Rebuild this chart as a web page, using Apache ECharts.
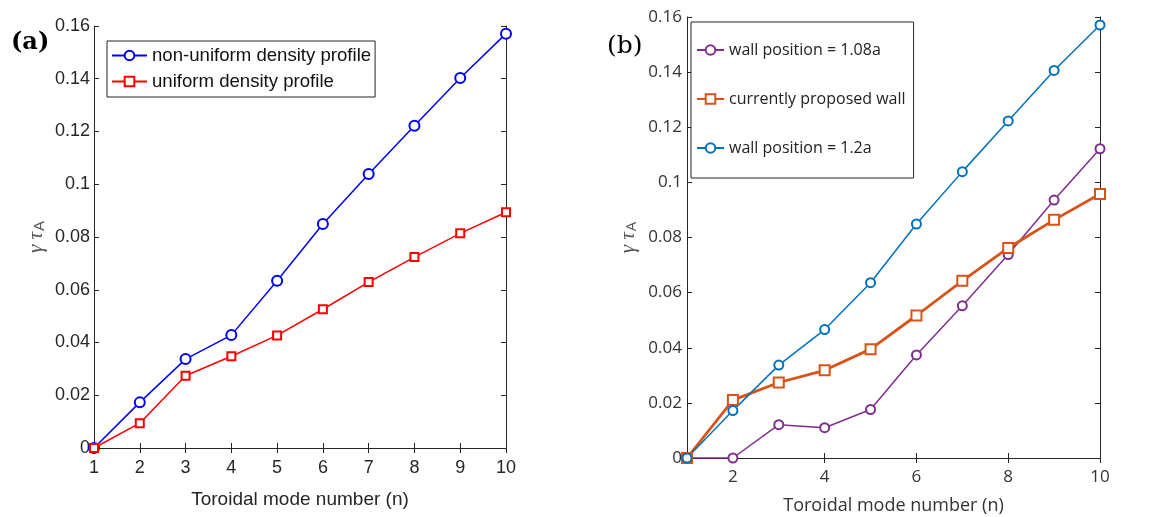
<!DOCTYPE html>
<html>
<head>
<meta charset="utf-8">
<script src="https://cdn.jsdelivr.net/npm/echarts@6/dist/echarts.min.js"></script>
<style>
  html, body { margin: 0; padding: 0; background: #fff; }
  #chart { width: 1174px; height: 517px; }
</style>
</head>
<body>
<div id="chart"></div>
<script>
// mode numbers n
var modes = [1, 2, 3, 4, 5, 6, 7, 8, 9, 10];

// panel (a)
var nonUniform = [0, 0.0173, 0.0337, 0.0428, 0.0634, 0.0849, 0.1039, 0.1222, 0.1403, 0.1571];
var uniform = [0, 0.0094, 0.0274, 0.0348, 0.0427, 0.0526, 0.0629, 0.0724, 0.0814, 0.0894];

// panel (b)
var wall108 = [0, 0, 0.0121, 0.0110, 0.0176, 0.0374, 0.0552, 0.0738, 0.0936, 0.1122];
var wallProposed = [0, 0.0210, 0.0274, 0.0318, 0.0395, 0.0517, 0.0643, 0.0762, 0.0864, 0.0958];
var wall12 = [0, 0.0172, 0.0337, 0.0466, 0.0636, 0.0849, 0.1039, 0.1223, 0.1406, 0.1571];

var xTicksB = [2, 4, 6, 8, 10];

function pairs(ys) {
  return modes.map(function (n, i) { return [n, ys[i]]; });
}

var fontA = 'Liberation Sans, Arial, sans-serif';
var fontB = 'Open Sans, Noto Sans, sans-serif';
var frame = '#262626';

function yName(font) {
  return {
    g: { fontFamily: 'Liberation Serif', fontStyle: 'italic', fontSize: 21, color: '#555', lineHeight: 22 },
    s: { fontFamily: font, fontSize: 15, color: '#555', verticalAlign: 'bottom', lineHeight: 22, padding: [9, 0, 0, 1] }
  };
}

function frameAxis(extra) {
  var base = {
    axisLine: { show: true, lineStyle: { color: frame, width: 1 } },
    axisTick: { show: true, inside: true, length: 5, lineStyle: { color: frame } },
    axisLabel: { show: false },
    splitLine: { show: false }
  };
  return Object.assign(base, extra);
}

var myChart = echarts.init(document.getElementById('chart'));

var option = {
  animation: false,
  backgroundColor: '#fff',
  grid: [
    { left: 94, top: 26, width: 412, height: 422, containLabel: false, outerBoundsMode: 'none' },
    { left: 687, top: 17, width: 413, height: 441, containLabel: false, outerBoundsMode: 'none' }
  ],
  xAxis: [
    frameAxis({
      type: 'value', gridIndex: 0, min: 1, max: 10, interval: 1,
      axisLabel: { show: true, margin: 11, fontFamily: fontA, fontSize: 18, color: frame },
      name: 'Toroidal mode number (n)', nameLocation: 'middle', nameGap: 42,
      nameTextStyle: { fontFamily: fontA, fontSize: 19, color: frame }
    }),
    frameAxis({ type: 'value', gridIndex: 0, min: 1, max: 10, interval: 1, position: 'top' }),
    frameAxis({
      type: 'value', gridIndex: 1, min: 1, max: 10,
      axisTick: { show: true, inside: true, length: 5, lineStyle: { color: frame }, customValues: xTicksB },
      axisLabel: { show: true, margin: 11, fontFamily: fontB, fontSize: 17, color: '#333', customValues: xTicksB },
      name: 'Toroidal mode number (n)', nameLocation: 'middle', nameGap: 39,
      nameTextStyle: { fontFamily: fontB, fontSize: 18, color: '#333' }
    }),
    frameAxis({
      type: 'value', gridIndex: 1, min: 1, max: 10, position: 'top',
      axisTick: { show: true, inside: true, length: 5, lineStyle: { color: frame }, customValues: xTicksB }
    })
  ],
  yAxis: [
    frameAxis({
      type: 'value', gridIndex: 0, min: 0, max: 0.16, interval: 0.02,
      axisLabel: { show: true, margin: 4, fontFamily: fontA, fontSize: 18, color: frame },
      name: '{g|γ τ}{s|A}', nameLocation: 'middle', nameGap: 47, nameRotate: 90,
      nameTextStyle: { rich: yName(fontA) }
    }),
    frameAxis({ type: 'value', gridIndex: 0, min: 0, max: 0.16, interval: 0.02, position: 'right' }),
    frameAxis({
      type: 'value', gridIndex: 1, min: 0, max: 0.16, interval: 0.02,
      axisLabel: { show: true, margin: 5, fontFamily: fontB, fontSize: 17, color: '#333' },
      name: '{g|γ τ}{s|A}', nameLocation: 'middle', nameGap: 48, nameRotate: 90,
      nameTextStyle: { rich: yName(fontB) }
    }),
    frameAxis({ type: 'value', gridIndex: 1, min: 0, max: 0.16, interval: 0.02, position: 'right' })
  ],
  legend: [
    {
      left: 107, top: 41, orient: 'vertical',
      data: ['non-uniform density profile', 'uniform density profile'],
      backgroundColor: '#fff', borderColor: frame, borderWidth: 1, borderRadius: 0,
      padding: [5, 4, 6, 4], itemWidth: 35, itemHeight: 12, itemGap: 7,
      textStyle: { fontFamily: fontA, fontSize: 18.6, color: '#111' }
    },
    {
      left: 691, top: 22, orient: 'vertical',
      data: ['wall position = 1.08a', 'currently proposed wall', 'wall position = 1.2a'],
      backgroundColor: '#fff', borderColor: frame, borderWidth: 1, borderRadius: 0,
      padding: [20, 8, 22, 5], itemWidth: 27, itemHeight: 12, itemGap: 33,
      textStyle: { fontFamily: fontB, fontSize: 16, color: '#222' }
    }
  ],
  graphic: [
    { type: 'text', left: 11, top: 31, style: { text: '(a)', font: 'bold 24px "DejaVu Serif", serif', fill: '#000' } },
    { type: 'text', left: 607, top: 34, style: { text: '(b)', font: '25px "DejaVu Serif", serif', fill: '#000' } }
  ],
  series: [
    {
      name: 'non-uniform density profile', type: 'line', xAxisIndex: 0, yAxisIndex: 0,
      data: pairs(nonUniform), symbol: 'emptyCircle', symbolSize: 10,
      lineStyle: { color: '#0000ff', width: 1.5 }, itemStyle: { color: '#0000ff', borderWidth: 1.5 }
    },
    {
      name: 'uniform density profile', type: 'line', xAxisIndex: 0, yAxisIndex: 0,
      data: pairs(uniform), symbol: 'emptyRect', symbolSize: 8,
      lineStyle: { color: '#ff0000', width: 1.5 }, itemStyle: { color: '#ff0000', borderWidth: 1.5 }
    },
    {
      name: 'wall position = 1.08a', type: 'line', xAxisIndex: 2, yAxisIndex: 2,
      data: pairs(wall108), symbol: 'emptyCircle', symbolSize: 9,
      lineStyle: { color: '#7e2f8e', width: 1.5 }, itemStyle: { color: '#7e2f8e', borderWidth: 1.3 }
    },
    {
      name: 'currently proposed wall', type: 'line', xAxisIndex: 2, yAxisIndex: 2,
      data: pairs(wallProposed), symbol: 'emptyRect', symbolSize: 10,
      lineStyle: { color: '#d95319', width: 2.8 }, itemStyle: { color: '#d95319', borderWidth: 2.5 }
    },
    {
      name: 'wall position = 1.2a', type: 'line', xAxisIndex: 2, yAxisIndex: 2,
      data: pairs(wall12), symbol: 'emptyCircle', symbolSize: 9,
      lineStyle: { color: '#0072bd', width: 1.5 }, itemStyle: { color: '#0072bd', borderWidth: 1.3 }
    }
  ]
};
myChart.setOption(option);
</script>
</body>
</html>
